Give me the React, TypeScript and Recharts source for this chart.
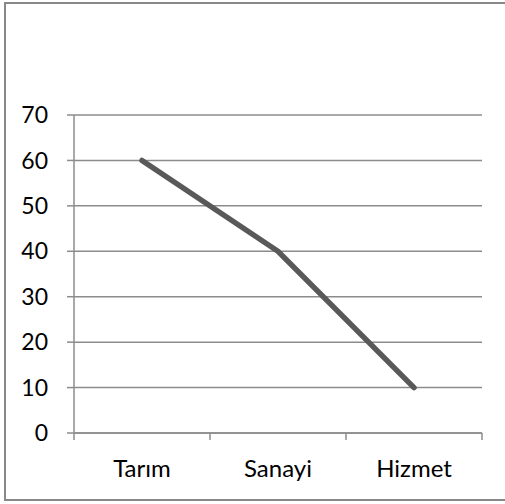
import React from "react";
import { LineChart, Line, XAxis, YAxis, CartesianGrid } from "recharts";

const categories = ["Tarım", "Sanayi", "Hizmet"];
const values = [60, 40, 10];
const yTicks = [0, 10, 20, 30, 40, 50, 60, 70];
const bandEdges = [0, 1, 2, 3];

const data = categories.map((name, i) => ({ name, idx: i + 0.5, value: values[i] }));

const FONT = "Lato, 'DejaVu Sans', sans-serif";
const GRID = "#8c8c8c";

export default function App() {
  return (
    <div style={{ position: "absolute", left: 0, top: 0, width: 505, height: 504, overflow: "hidden", background: "#fff" }}>
      <div
        style={{
          position: "absolute",
          left: 4,
          top: 2,
          width: 520,
          height: 495,
          border: "2px solid #888",
        }}
      />
      <LineChart
        width={505}
        height={504}
        data={data}
        margin={{ top: 115, right: 23, left: 0, bottom: 20 }}
        style={{ position: "absolute", left: 0, top: 0, fontFamily: FONT }}
      >
        <CartesianGrid xAxisId="b_cat" vertical={false} stroke={GRID} strokeWidth={1.5} />
        <XAxis
          xAxisId="a_edges"
          type="number"
          dataKey="idx"
          domain={[0, 3]}
          ticks={bandEdges}
          interval={0}
          height={1}
          tick={{ fontSize: 1, fill: "none" }}
          tickFormatter={() => " "}
          tickSize={7}
          stroke={GRID}
          strokeWidth={1.5}
        />
        <XAxis
          xAxisId="b_cat"
          dataKey="name"
          scale="band"
          height={50}
          axisLine={false}
          tickLine={false}
          tickSize={0}
          tickMargin={26}
          tick={{ fill: "#000", fontSize: 24, fontFamily: FONT }}
        />
        <YAxis
          domain={[0, 70]}
          ticks={yTicks}
          width={74}
          tickSize={7}
          tickMargin={19}
          stroke={GRID}
          strokeWidth={1.5}
          tick={{ fill: "#000", fontSize: 23, fontFamily: FONT }}
        />
        <Line
          xAxisId="b_cat"
          dataKey="value"
          stroke="#595959"
          strokeWidth={5.5}
          strokeLinecap="round"
          dot={false}
          activeDot={false}
          isAnimationActive={false}
        />
      </LineChart>
    </div>
  );
}
